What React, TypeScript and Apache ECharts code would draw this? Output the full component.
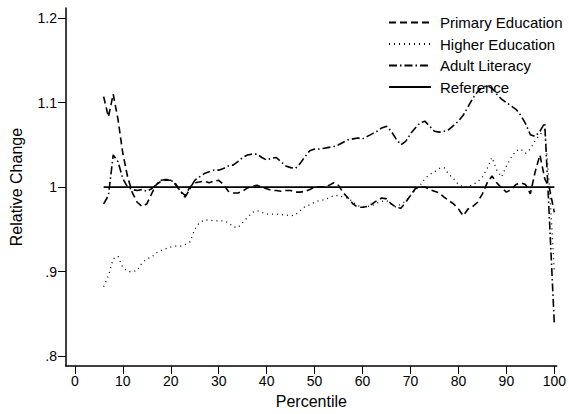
import React, { useEffect, useRef } from "react";
import * as echarts from "echarts";

const percentiles: number[] = [];
for (let p = 6; p <= 100; p++) percentiles.push(p);

const primaryEducation = [
  1.107, 1.083, 1.110, 1.080, 1.040, 1.012, 0.993, 0.982, 0.977, 0.980,
  0.992, 1.003, 1.007, 1.008, 1.008, 1.003, 0.995, 0.990, 1.000, 1.005,
  1.006, 1.007, 1.005, 1.007, 1.008, 1.003, 0.995, 0.993, 0.993, 0.995,
  0.999, 1.001, 1.002, 1.000, 0.998, 0.996, 0.996, 0.995, 0.996, 0.996,
  0.994, 0.994, 0.995, 0.997, 1.000, 1.000, 1.000, 1.002, 1.005, 1.002,
  0.993, 0.987, 0.980, 0.976, 0.976, 0.977, 0.980, 0.984, 0.987, 0.986,
  0.980, 0.976, 0.975, 0.982, 0.990, 0.998, 1.000, 1.000, 0.997, 0.995,
  0.993, 0.988, 0.984, 0.980, 0.974, 0.966, 0.974, 0.977, 0.982, 0.992,
  1.005, 1.013, 1.005, 0.999, 0.994, 0.997, 1.003, 1.005, 1.003, 0.992,
  1.018, 1.038, 1.010, 0.998, 0.970,
];

const higherEducation = [
  0.882, 0.895, 0.915, 0.918, 0.905, 0.900, 0.900, 0.901, 0.910, 0.915,
  0.917, 0.922, 0.925, 0.927, 0.929, 0.930, 0.930, 0.932, 0.935, 0.950,
  0.958, 0.961, 0.961, 0.960, 0.960, 0.960, 0.958, 0.953, 0.952, 0.958,
  0.964, 0.970, 0.972, 0.970, 0.968, 0.968, 0.968, 0.967, 0.967, 0.966,
  0.967, 0.972, 0.977, 0.979, 0.982, 0.984, 0.985, 0.987, 0.990, 0.990,
  0.988, 0.987, 0.982, 0.978, 0.976, 0.977, 0.978, 0.981, 0.983, 0.984,
  0.980, 0.976, 0.980, 0.983, 0.990, 0.997, 1.002, 1.010, 1.015, 1.018,
  1.022, 1.023, 1.015, 1.010, 1.003, 1.000, 1.000, 1.003, 1.006, 1.012,
  1.022, 1.035, 1.020, 1.012, 1.025, 1.035, 1.043, 1.045, 1.040, 1.045,
  1.055, 1.062, 1.068, 1.000, 0.900,
];

const adultLiteracy = [
  0.980, 0.990, 1.038, 1.030, 1.010, 1.000, 0.997, 0.996, 0.997, 0.995,
  0.998, 1.003, 1.008, 1.009, 1.008, 1.004, 0.995, 0.988, 0.998, 1.008,
  1.012, 1.016, 1.018, 1.020, 1.020, 1.022, 1.025, 1.026, 1.030, 1.035,
  1.038, 1.039, 1.039, 1.035, 1.032, 1.034, 1.035, 1.030, 1.025, 1.023,
  1.022, 1.028, 1.036, 1.043, 1.045, 1.045, 1.046, 1.047, 1.048, 1.050,
  1.053, 1.056, 1.057, 1.058, 1.057, 1.060, 1.063, 1.066, 1.070, 1.072,
  1.066, 1.057, 1.050, 1.054, 1.063, 1.070, 1.076, 1.078, 1.072, 1.066,
  1.065, 1.066, 1.068, 1.073, 1.078, 1.085, 1.095, 1.105, 1.113, 1.118,
  1.120, 1.117, 1.110, 1.104, 1.100, 1.096, 1.092, 1.085, 1.075, 1.062,
  1.060, 1.066, 1.076, 0.960, 0.838,
];

const referenceX = [6, 100];
const referenceY = [1, 1];

const xTicks = [0, 10, 20, 30, 40, 50, 60, 70, 80, 90, 100];
const yTicks = [0.8, 0.9, 1, 1.1, 1.2];

const FONT = "Liberation Sans, Arial, Helvetica, sans-serif";

export default function App() {
  const ref = useRef<HTMLDivElement>(null);
  useEffect(() => {
    if (!ref.current) return;
    const chart = echarts.init(ref.current, undefined, { renderer: "svg" });
    const pair = (ys: number[]) => percentiles.map((p, i) => [p, ys[i]]);
    chart.setOption({
      animation: false,
      backgroundColor: "#ffffff",
      textStyle: { fontFamily: FONT, color: "#000" },
      grid: { left: 66, right: 4, top: 8, bottom: 46 },
      legend: {
        orient: "vertical",
        left: 388,
        top: 15,
        padding: 0,
        itemWidth: 42,
        itemHeight: 14,
        itemGap: 6.5,
        itemStyle: { opacity: 0 },
        textStyle: { fontFamily: FONT, fontSize: 15, color: "#000", padding: [0, 0, 0, 4] },
        data: ["Primary Education", "Higher Education", "Adult Literacy", "Reference"],
      },
      xAxis: {
        type: "value",
        min: -1.85,
        max: 100.5,
        name: "Percentile",
        nameLocation: "middle",
        nameGap: 26,
        nameTextStyle: { fontFamily: FONT, fontSize: 16, color: "#000" },
        axisLine: { show: true, onZero: false, lineStyle: { color: "#000", width: 1.5 } },
        axisTick: { show: true, length: 8, customValues: xTicks, lineStyle: { color: "#000", width: 1 } },
        axisLabel: {
          customValues: xTicks,
          fontFamily: FONT,
          fontSize: 14,
          color: "#000",
          margin: 8,
        },
        splitLine: { show: false },
      },
      yAxis: {
        type: "value",
        min: 0.788,
        max: 1.212,
        name: "Relative Change",
        nameLocation: "middle",
        nameGap: 42,
        nameTextStyle: { fontFamily: FONT, fontSize: 16, color: "#000" },
        axisLine: { show: true, onZero: false, lineStyle: { color: "#000", width: 1.5 } },
        axisTick: { show: true, length: 8, customValues: yTicks, lineStyle: { color: "#000", width: 1 } },
        axisLabel: {
          customValues: yTicks,
          fontFamily: FONT,
          fontSize: 14,
          color: "#000",
          margin: 9,
          formatter: (v: number) => {
            const s = String(Math.round(v * 10) / 10);
            return s.startsWith("0.") ? s.slice(1) : s;
          },
        },
        splitLine: { show: false },
      },
      series: [
        {
          name: "Primary Education",
          type: "line",
          data: pair(primaryEducation),
          symbol: "none",
          lineStyle: { color: "#000", width: 1.6, type: [7, 4] },
          itemStyle: { color: "#000" },
        },
        {
          name: "Higher Education",
          type: "line",
          data: pair(higherEducation),
          symbol: "none",
          lineStyle: { color: "#000", width: 1.3, type: [1, 4] },
          itemStyle: { color: "#000" },
        },
        {
          name: "Adult Literacy",
          type: "line",
          data: pair(adultLiteracy),
          symbol: "none",
          lineStyle: { color: "#000", width: 1.6, type: [8, 3, 1.5, 3] },
          itemStyle: { color: "#000" },
        },
        {
          name: "Reference",
          type: "line",
          data: referenceX.map((x, i) => [x, referenceY[i]]),
          symbol: "none",
          lineStyle: { color: "#000", width: 1.8, type: "solid" },
          itemStyle: { color: "#000" },
        },
      ],
    });
    return () => chart.dispose();
  }, []);
  return <div ref={ref} style={{ width: 569, height: 414, position: "absolute", left: 0, top: 0 }} />;
}
